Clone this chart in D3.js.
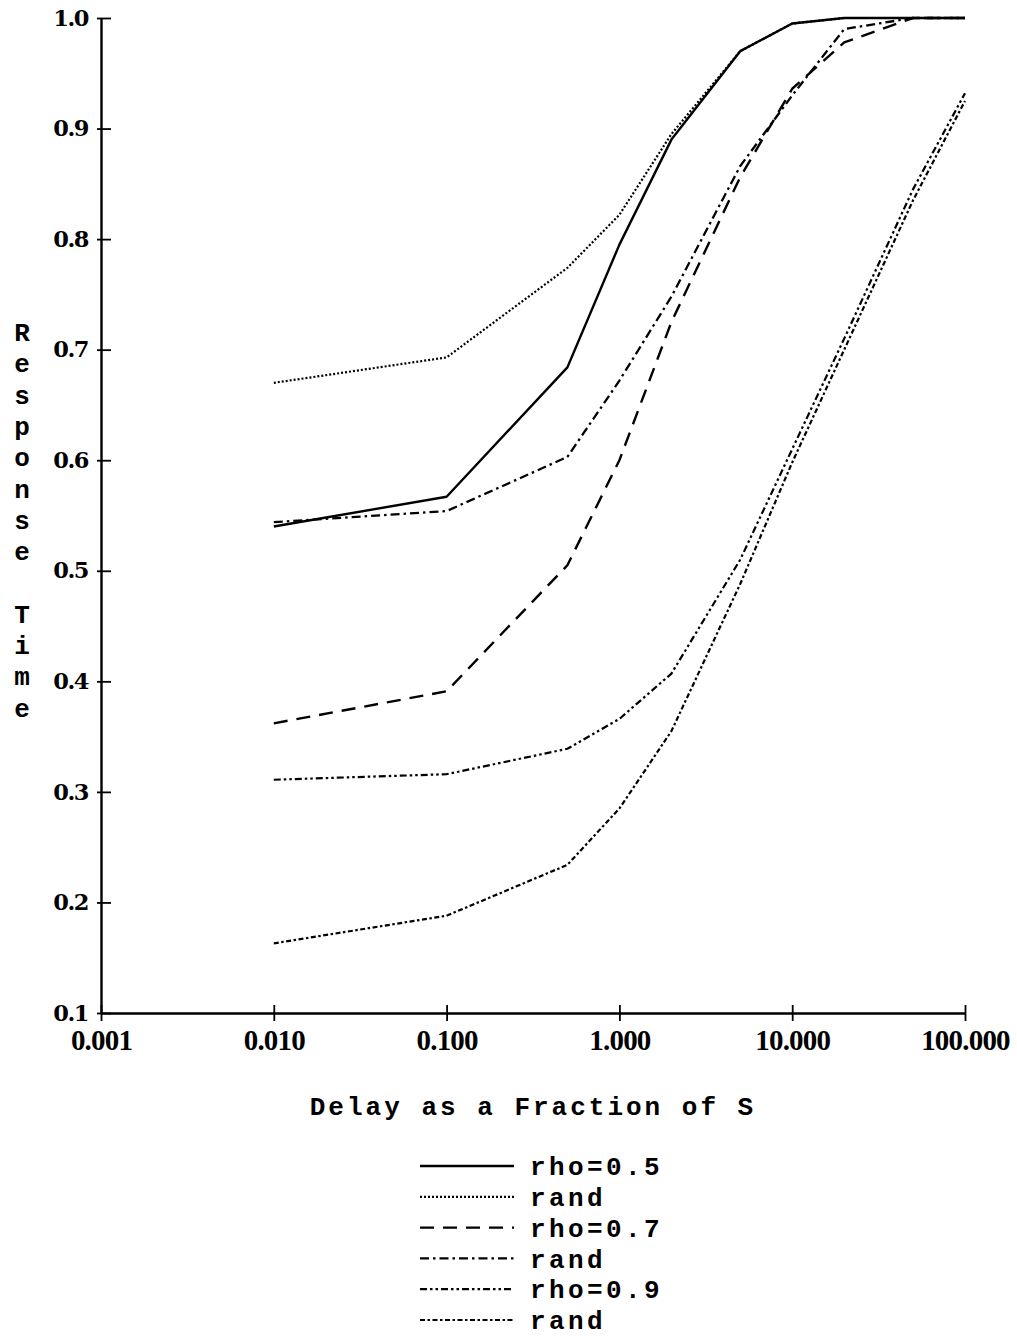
<!DOCTYPE html>
<html>
<head>
<meta charset="utf-8">
<script src="https://cdn.jsdelivr.net/npm/d3@7"></script>
<style>
  body { margin: 0; background: #fff; }
  svg { display: block; }
  .mono { font-family: "Liberation Mono", "DejaVu Sans Mono", monospace; font-weight: bold; }
</style>
</head>
<body>
<div id="chart"></div>
<script>

// data
var delays = [0.01, 0.1, 0.5, 1, 2, 5, 10, 20, 50, 100];

var rho05      = [0.540, 0.567, 0.684, 0.795, 0.890, 0.970, 0.995, 1.000, 1.000, 1.000];
var rho05Rand  = [0.670, 0.693, 0.774, 0.822, 0.895, 0.970, 0.995, 1.000, 1.000, 1.000];
var rho07      = [0.362, 0.391, 0.505, 0.600, 0.725, 0.856, 0.936, 0.978, 1.000, 1.000];
var rho07Rand  = [0.544, 0.554, 0.603, 0.672, 0.748, 0.866, 0.930, 0.990, 1.000, 1.000];
var rho09      = [0.311, 0.316, 0.339, 0.366, 0.407, 0.510, 0.610, 0.710, 0.845, 0.932];
var rho09Rand  = [0.163, 0.188, 0.234, 0.285, 0.355, 0.488, 0.598, 0.700, 0.835, 0.925];

var seriesNames = ["rho=0.5", "rand", "rho=0.7", "rand", "rho=0.9", "rand"];
var seriesValues = [rho05, rho05Rand, rho07, rho07Rand, rho09, rho09Rand];

var xTicks = [0.001, 0.01, 0.1, 1, 10, 100];
var yTicks = [0.1, 0.2, 0.3, 0.4, 0.5, 0.6, 0.7, 0.8, 0.9, 1.0];

var xTitle = "Delay as a Fraction of S";
var yTitle = "Response Time";

// styles per series
var dashes = ["none", "2,2", "14,9", "9,4,2.5,4", "7,3,2.5,3,2.5,3", "5,2.5,2.5,2.5"];
var widths = [2.4, 2.2, 2.4, 2.3, 2.2, 2.2];

var width = 1017, height = 1337;

var svg = d3.select("#chart").append("svg")
  .attr("width", width)
  .attr("height", height);

// scales
var xScale = d3.scaleLog()
  .domain([0.001, 100])
  .range([101, 965]);

var yScale = d3.scaleLinear()
  .domain([0.1, 1.0])
  .range([1013, 18]);

// y axis: labels + small outer ticks, then inner ticks
var yAxis = d3.axisLeft(yScale)
  .tickValues(yTicks)
  .tickFormat(d3.format(".1f"))
  .tickSizeInner(4)
  .tickSizeOuter(0)
  .tickPadding(9);

var gy = svg.append("g")
  .attr("transform", "translate(" + xScale(0.001) + ",0)")
  .call(yAxis);
gy.selectAll("text")
  .style("font-family", "'DejaVu Serif', serif")
  .style("font-weight", "bold")
  .style("font-size", "22.5px")
  .style("letter-spacing", "-1.5px")
  .attr("fill", "#000");

svg.append("g")
  .attr("transform", "translate(" + xScale(0.001) + ",0)")
  .call(d3.axisRight(yScale).tickValues(yTicks).tickSizeInner(10).tickSizeOuter(0).tickFormat(""))
  .select(".domain").remove();

// x axis
var xAxis = d3.axisBottom(xScale)
  .tickValues(xTicks)
  .tickFormat(d3.format(".3f"))
  .tickSizeInner(8)
  .tickSizeOuter(0)
  .tickPadding(8);

var gx = svg.append("g")
  .attr("transform", "translate(0," + yScale(0.1) + ")")
  .call(xAxis);
gx.selectAll("text")
  .style("font-family", "'Liberation Serif', serif")
  .style("font-weight", "bold")
  .style("font-size", "29px")
  .style("letter-spacing", "-0.8px")
  .attr("fill", "#000");

svg.append("g")
  .attr("transform", "translate(0," + yScale(0.1) + ")")
  .call(d3.axisTop(xScale).tickValues(xTicks).tickSizeInner(8).tickSizeOuter(0).tickFormat(""))
  .select(".domain").remove();

svg.selectAll(".domain").attr("stroke-width", 2.4);
svg.selectAll(".tick line").attr("stroke-width", 1.8);

// series lines
var line = d3.line()
  .x(function(d) { return xScale(d.x); })
  .y(function(d) { return yScale(d.y); });

seriesValues.forEach(function(vals, i) {
  var pts = delays.map(function(x, j) { return {x: x, y: vals[j]}; });
  svg.append("path")
    .datum(pts)
    .attr("fill", "none")
    .attr("stroke", "#000")
    .attr("stroke-width", widths[i])
    .attr("stroke-dasharray", dashes[i])
    .attr("stroke-linejoin", "round")
    .attr("d", line);
});

// axis titles
svg.append("text")
  .attr("class", "mono")
  .attr("x", 533)
  .attr("y", 1115)
  .attr("text-anchor", "middle")
  .style("font-size", "26px")
  .style("letter-spacing", "3px")
  .text(xTitle);

var yChars = yTitle.split("");
svg.append("g").selectAll("text")
  .data(yChars)
  .enter().append("text")
  .attr("class", "mono")
  .attr("x", 22)
  .attr("y", function(d, i) { return 332 + i * 31.3; })
  .attr("dy", "0.35em")
  .attr("text-anchor", "middle")
  .style("font-size", "26px")
  .text(function(d) { return d; });

// legend
var legend = svg.append("g");
seriesNames.forEach(function(name, i) {
  var y = 1166 + i * 30.8;
  legend.append("line")
    .attr("x1", 420).attr("x2", 514)
    .attr("y1", y).attr("y2", y)
    .attr("stroke", "#000")
    .attr("stroke-width", widths[i])
    .attr("stroke-dasharray", dashes[i]);
  legend.append("text")
    .attr("class", "mono")
    .attr("x", 530)
    .attr("y", y)
    .attr("dy", "0.35em")
    .style("font-size", "26px")
    .style("letter-spacing", "3.4px")
    .text(name);
});

</script>
</body>
</html>
